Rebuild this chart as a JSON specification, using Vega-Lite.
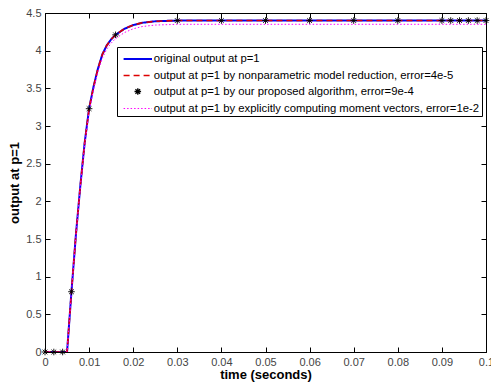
{
  "$schema": "https://vega.github.io/schema/vega-lite/v6.json",
  "width": 441,
  "height": 339,
  "autosize": {"type": "none"},
  "padding": {"left": 45, "top": 13, "right": 5, "bottom": 37},
  "background": "white",
  "config": {
    "font": "Liberation Sans",
    "view": {"stroke": "black", "strokeWidth": 1},
    "axis": {
      "grid": false,
      "labelFont": "Liberation Sans",
      "labelFontSize": 11,
      "labelColor": "#444444",
      "titleFont": "Liberation Sans",
      "titleFontSize": 13,
      "titleFontWeight": "bold",
      "titleColor": "black",
      "domainColor": "black",
      "tickColor": "black",
      "tickSize": -5,
      "labelFlush": false,
      "labelOverlap": false
    },
    "legend": {
      "orient": "none",
      "legendX": 72,
      "legendY": 34,
      "strokeColor": "black",
      "fillColor": "white",
      "padding": 2,
      "labelFont": "Liberation Sans",
      "labelFontSize": 11.3,
      "labelColor": "black",
      "labelLimit": 500,
      "symbolSize": 300,
      "symbolOffset": 8.8,
      "labelOffset": 6,
      "rowPadding": 1,
      "cornerRadius": 0
    }
  },
  "datasets": {
    "lines": [
      {"series": "original output at p=1", "t": 0, "y": 0},
      {"series": "original output at p=1", "t": 0.005, "y": 0},
      {"series": "original output at p=1", "t": 0.006, "y": 0.8},
      {"series": "original output at p=1", "t": 0.007, "y": 1.55},
      {"series": "original output at p=1", "t": 0.008, "y": 2.2},
      {"series": "original output at p=1", "t": 0.009, "y": 2.78},
      {"series": "original output at p=1", "t": 0.010, "y": 3.23},
      {"series": "original output at p=1", "t": 0.011, "y": 3.52},
      {"series": "original output at p=1", "t": 0.012, "y": 3.76},
      {"series": "original output at p=1", "t": 0.013, "y": 3.95},
      {"series": "original output at p=1", "t": 0.014, "y": 4.07},
      {"series": "original output at p=1", "t": 0.015, "y": 4.15},
      {"series": "original output at p=1", "t": 0.016, "y": 4.21},
      {"series": "original output at p=1", "t": 0.018, "y": 4.29},
      {"series": "original output at p=1", "t": 0.020, "y": 4.34},
      {"series": "original output at p=1", "t": 0.022, "y": 4.37},
      {"series": "original output at p=1", "t": 0.025, "y": 4.39},
      {"series": "original output at p=1", "t": 0.03, "y": 4.4},
      {"series": "original output at p=1", "t": 0.05, "y": 4.4},
      {"series": "original output at p=1", "t": 0.07, "y": 4.4},
      {"series": "original output at p=1", "t": 0.1, "y": 4.4},
      {"series": "output at p=1 by nonparametric model reduction, error=4e-5", "t": 0, "y": 0},
      {"series": "output at p=1 by nonparametric model reduction, error=4e-5", "t": 0.005, "y": 0},
      {"series": "output at p=1 by nonparametric model reduction, error=4e-5", "t": 0.006, "y": 0.8},
      {"series": "output at p=1 by nonparametric model reduction, error=4e-5", "t": 0.007, "y": 1.55},
      {"series": "output at p=1 by nonparametric model reduction, error=4e-5", "t": 0.008, "y": 2.2},
      {"series": "output at p=1 by nonparametric model reduction, error=4e-5", "t": 0.009, "y": 2.78},
      {"series": "output at p=1 by nonparametric model reduction, error=4e-5", "t": 0.010, "y": 3.23},
      {"series": "output at p=1 by nonparametric model reduction, error=4e-5", "t": 0.011, "y": 3.52},
      {"series": "output at p=1 by nonparametric model reduction, error=4e-5", "t": 0.012, "y": 3.76},
      {"series": "output at p=1 by nonparametric model reduction, error=4e-5", "t": 0.013, "y": 3.95},
      {"series": "output at p=1 by nonparametric model reduction, error=4e-5", "t": 0.014, "y": 4.07},
      {"series": "output at p=1 by nonparametric model reduction, error=4e-5", "t": 0.015, "y": 4.15},
      {"series": "output at p=1 by nonparametric model reduction, error=4e-5", "t": 0.016, "y": 4.21},
      {"series": "output at p=1 by nonparametric model reduction, error=4e-5", "t": 0.018, "y": 4.29},
      {"series": "output at p=1 by nonparametric model reduction, error=4e-5", "t": 0.020, "y": 4.34},
      {"series": "output at p=1 by nonparametric model reduction, error=4e-5", "t": 0.022, "y": 4.37},
      {"series": "output at p=1 by nonparametric model reduction, error=4e-5", "t": 0.025, "y": 4.39},
      {"series": "output at p=1 by nonparametric model reduction, error=4e-5", "t": 0.03, "y": 4.4},
      {"series": "output at p=1 by nonparametric model reduction, error=4e-5", "t": 0.05, "y": 4.4},
      {"series": "output at p=1 by nonparametric model reduction, error=4e-5", "t": 0.07, "y": 4.4},
      {"series": "output at p=1 by nonparametric model reduction, error=4e-5", "t": 0.1, "y": 4.4},
      {"series": "output at p=1 by explicitly computing moment vectors, error=1e-2", "t": 0, "y": 0},
      {"series": "output at p=1 by explicitly computing moment vectors, error=1e-2", "t": 0.005, "y": 0},
      {"series": "output at p=1 by explicitly computing moment vectors, error=1e-2", "t": 0.006, "y": 0.8},
      {"series": "output at p=1 by explicitly computing moment vectors, error=1e-2", "t": 0.007, "y": 1.54},
      {"series": "output at p=1 by explicitly computing moment vectors, error=1e-2", "t": 0.008, "y": 2.18},
      {"series": "output at p=1 by explicitly computing moment vectors, error=1e-2", "t": 0.009, "y": 2.75},
      {"series": "output at p=1 by explicitly computing moment vectors, error=1e-2", "t": 0.010, "y": 3.19},
      {"series": "output at p=1 by explicitly computing moment vectors, error=1e-2", "t": 0.011, "y": 3.48},
      {"series": "output at p=1 by explicitly computing moment vectors, error=1e-2", "t": 0.012, "y": 3.72},
      {"series": "output at p=1 by explicitly computing moment vectors, error=1e-2", "t": 0.013, "y": 3.9},
      {"series": "output at p=1 by explicitly computing moment vectors, error=1e-2", "t": 0.014, "y": 4.02},
      {"series": "output at p=1 by explicitly computing moment vectors, error=1e-2", "t": 0.015, "y": 4.1},
      {"series": "output at p=1 by explicitly computing moment vectors, error=1e-2", "t": 0.016, "y": 4.16},
      {"series": "output at p=1 by explicitly computing moment vectors, error=1e-2", "t": 0.018, "y": 4.24},
      {"series": "output at p=1 by explicitly computing moment vectors, error=1e-2", "t": 0.020, "y": 4.29},
      {"series": "output at p=1 by explicitly computing moment vectors, error=1e-2", "t": 0.022, "y": 4.32},
      {"series": "output at p=1 by explicitly computing moment vectors, error=1e-2", "t": 0.025, "y": 4.34},
      {"series": "output at p=1 by explicitly computing moment vectors, error=1e-2", "t": 0.03, "y": 4.35},
      {"series": "output at p=1 by explicitly computing moment vectors, error=1e-2", "t": 0.05, "y": 4.35},
      {"series": "output at p=1 by explicitly computing moment vectors, error=1e-2", "t": 0.07, "y": 4.35},
      {"series": "output at p=1 by explicitly computing moment vectors, error=1e-2", "t": 0.1, "y": 4.35}
    ],
    "stars": [
      {"series": "output at p=1 by our proposed algorithm, error=9e-4", "t": 0, "y": 0},
      {"series": "output at p=1 by our proposed algorithm, error=9e-4", "t": 0.002, "y": 0},
      {"series": "output at p=1 by our proposed algorithm, error=9e-4", "t": 0.004, "y": 0},
      {"series": "output at p=1 by our proposed algorithm, error=9e-4", "t": 0.006, "y": 0.8},
      {"series": "output at p=1 by our proposed algorithm, error=9e-4", "t": 0.01, "y": 3.23},
      {"series": "output at p=1 by our proposed algorithm, error=9e-4", "t": 0.016, "y": 4.21},
      {"series": "output at p=1 by our proposed algorithm, error=9e-4", "t": 0.03, "y": 4.4},
      {"series": "output at p=1 by our proposed algorithm, error=9e-4", "t": 0.04, "y": 4.4},
      {"series": "output at p=1 by our proposed algorithm, error=9e-4", "t": 0.05, "y": 4.4},
      {"series": "output at p=1 by our proposed algorithm, error=9e-4", "t": 0.06, "y": 4.4},
      {"series": "output at p=1 by our proposed algorithm, error=9e-4", "t": 0.07, "y": 4.4},
      {"series": "output at p=1 by our proposed algorithm, error=9e-4", "t": 0.08, "y": 4.4},
      {"series": "output at p=1 by our proposed algorithm, error=9e-4", "t": 0.09, "y": 4.4},
      {"series": "output at p=1 by our proposed algorithm, error=9e-4", "t": 0.092, "y": 4.4},
      {"series": "output at p=1 by our proposed algorithm, error=9e-4", "t": 0.094, "y": 4.4},
      {"series": "output at p=1 by our proposed algorithm, error=9e-4", "t": 0.096, "y": 4.4},
      {"series": "output at p=1 by our proposed algorithm, error=9e-4", "t": 0.098, "y": 4.4},
      {"series": "output at p=1 by our proposed algorithm, error=9e-4", "t": 0.1, "y": 4.4}
    ]
  },
  "layer": [
    {
      "data": {"name": "lines"},
      "mark": {"type": "line", "clip": true},
      "encoding": {
        "x": {
          "field": "t", "type": "quantitative",
          "scale": {"domain": [0, 0.1], "nice": false, "zero": false},
          "axis": {"title": "time (seconds)", "values": [0, 0.01, 0.02, 0.03, 0.04, 0.05, 0.06, 0.07, 0.08, 0.09, 0.1], "format": ".2~f", "labelPadding": 9, "titlePadding": 1}
        },
        "y": {
          "field": "y", "type": "quantitative",
          "scale": {"domain": [0, 4.5], "nice": false, "zero": false},
          "axis": {"title": "output at p=1", "values": [0, 0.5, 1, 1.5, 2, 2.5, 3, 3.5, 4, 4.5], "format": ".1~f", "labelPadding": 9, "titlePadding": 4}
        },
        "color": {
          "field": "series", "type": "nominal",
          "scale": {
            "domain": ["original output at p=1", "output at p=1 by nonparametric model reduction, error=4e-5", "output at p=1 by our proposed algorithm, error=9e-4", "output at p=1 by explicitly computing moment vectors, error=1e-2"],
            "range": ["#0000ee", "#dd0000", "#000000", "#ff00ff"]
          },
          "legend": {"title": null}
        },
        "strokeDash": {
          "field": "series", "type": "nominal",
          "scale": {
            "domain": ["original output at p=1", "output at p=1 by nonparametric model reduction, error=4e-5", "output at p=1 by our proposed algorithm, error=9e-4", "output at p=1 by explicitly computing moment vectors, error=1e-2"],
            "range": [[1, 0], [6, 4], [1, 0], [1.5, 2]]
          },
          "legend": {"title": null}
        },
        "strokeWidth": {
          "field": "series", "type": "nominal",
          "scale": {
            "domain": ["original output at p=1", "output at p=1 by nonparametric model reduction, error=4e-5", "output at p=1 by our proposed algorithm, error=9e-4", "output at p=1 by explicitly computing moment vectors, error=1e-2"],
            "range": [2, 1, 1, 1.5]
          },
          "legend": {"title": null}
        }
      }
    },
    {
      "data": {"name": "stars"},
      "mark": {"type": "point", "filled": false, "size": 300, "strokeWidth": 0.9, "opacity": 1},
      "encoding": {
        "x": {"field": "t", "type": "quantitative", "axis": {"orient": "top", "labels": false, "title": null, "domain": false, "values": [0, 0.01, 0.02, 0.03, 0.04, 0.05, 0.06, 0.07, 0.08, 0.09, 0.1]}},
        "y": {"field": "y", "type": "quantitative", "axis": {"orient": "right", "labels": false, "title": null, "domain": false, "values": [0, 0.5, 1, 1.5, 2, 2.5, 3, 3.5, 4, 4.5]}},
        "color": {"field": "series", "type": "nominal", "legend": {"title": null}},
        "shape": {
          "field": "series", "type": "nominal",
          "scale": {
            "domain": ["original output at p=1", "output at p=1 by nonparametric model reduction, error=4e-5", "output at p=1 by our proposed algorithm, error=9e-4", "output at p=1 by explicitly computing moment vectors, error=1e-2"],
            "range": ["M-1.64,0H1.64", "M-1.64,0H1.64", "M-0.38,0H0.38M0,-0.38V0.38M-0.27,-0.27L0.27,0.27M-0.27,0.27L0.27,-0.27", "M-1.64,0H1.64"]
          },
          "legend": {"title": null}
        }
      }
    }
  ],
  "resolve": {"axis": {"x": "independent", "y": "independent"}}
}
